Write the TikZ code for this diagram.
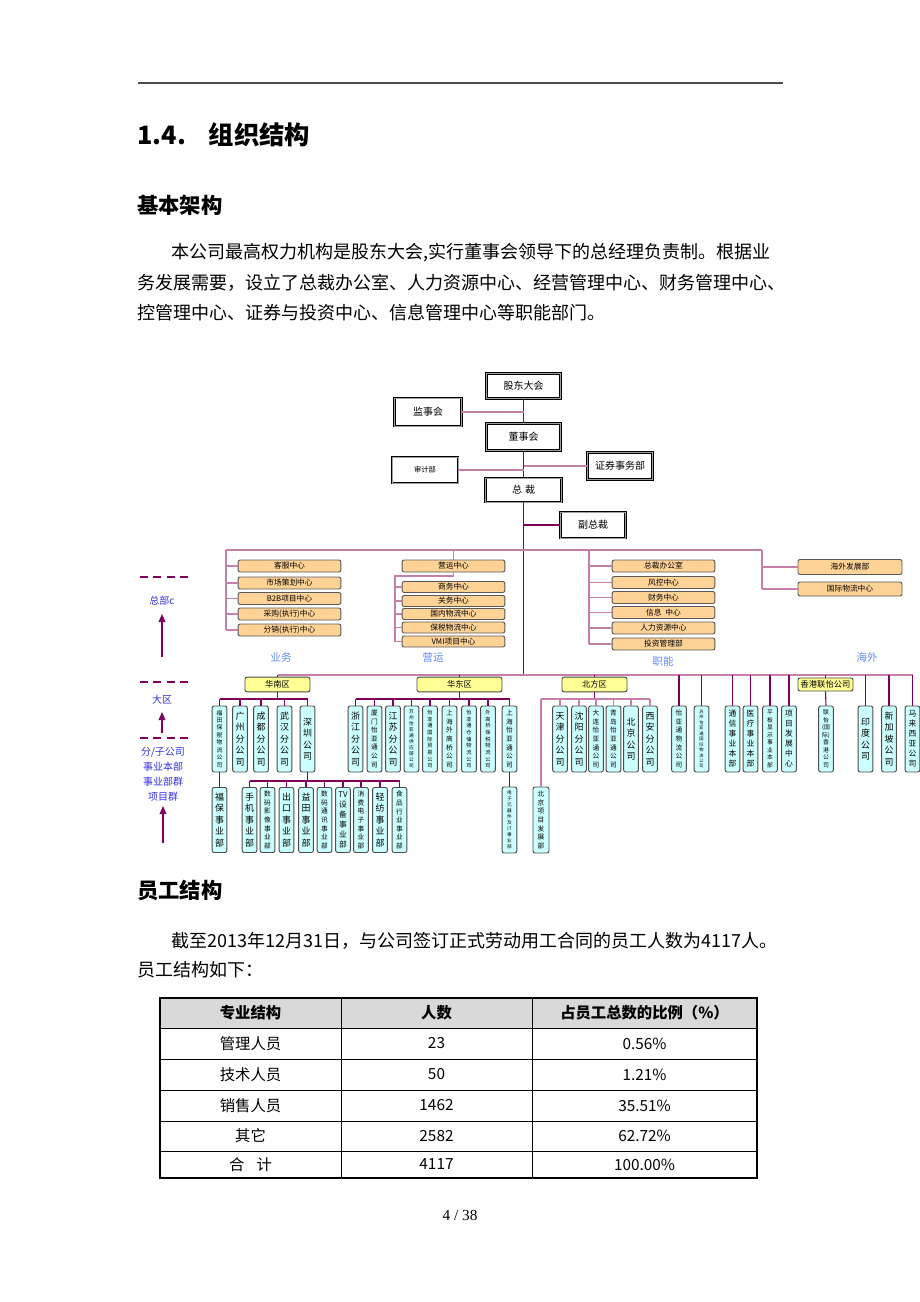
\documentclass[tikz,border=0pt]{standalone}
\usepackage{fontspec}
\newfontfamily\cjk{Noto Sans CJK SC}
\newfontfamily\lserif{Liberation Serif}
\usetikzlibrary{arrows.meta}
\definecolor{lnD}{RGB}{128,0,96}
\definecolor{lnL}{RGB}{196,128,170}
\definecolor{peach}{RGB}{255,210,150}
\definecolor{cyanb}{RGB}{204,255,255}
\definecolor{yelb}{RGB}{255,255,150}
\definecolor{lblue}{RGB}{100,140,250}
\definecolor{dblue}{RGB}{50,50,225}
\ExplSyntaxOn
\NewDocumentCommand\vt{m}{
  \seq_clear:N \l_tmpa_seq
  \tl_map_inline:nn {#1} { \seq_put_right:Nn \l_tmpa_seq {##1} }
  \fp_set:Nn \l_tmpa_fp { min(8.6, 45/\seq_count:N \l_tmpa_seq) }
  \vbox{
    \fontsize{\fp_eval:n{round(0.78*\l_tmpa_fp,2)}pt}{\fp_eval:n{round(\l_tmpa_fp,2)}pt}\selectfont
    \seq_map_inline:Nn \l_tmpa_seq { \hbox to 0pt {\hss ##1\hss} }
  }
}
\ExplSyntaxOff
\begin{document}
\begin{tikzpicture}[x=0.75pt,y=-0.75pt,font=\cjk,
  topbox/.style={draw=black,line width=0.7pt,double=gray!75,double distance=0.7pt,fill=white,inner sep=0pt,font=\cjk\fontsize{7.5}{9}\selectfont},
  obox/.style={draw=black!65,line width=0.7pt,rounded corners=1.5pt,fill=peach,minimum width=77pt,minimum height=9pt,inner sep=0pt,font=\cjk\fontsize{5.8}{7}\selectfont},
  ybox/.style={draw=black!70,line width=0.7pt,rounded corners=1.5pt,fill=yelb,minimum height=11pt,inner sep=0pt,font=\cjk\fontsize{6.2}{7}\selectfont},
  cbox/.style={draw=black!70,line width=0.7pt,rounded corners=1.5pt,fill=cyanb,minimum width=11pt,minimum height=49.5pt,inner sep=0pt},
  dline/.style={draw=lnD,line width=0.8pt},
  lline/.style={draw=lnL,line width=1pt},
  txt/.style={anchor=west,inner sep=0pt},
  legd/.style={font=\cjk\fontsize{7.5}{9}\selectfont,text=dblue,inner sep=0pt},
  legl/.style={font=\cjk\fontsize{8}{9}\selectfont,text=lblue,inner sep=0pt},
  dashl/.style={draw=lnD,line width=0.8pt,dash pattern=on 6pt off 4pt},
  uparrow/.style={draw=lnD,line width=1pt,-{Triangle[length=6pt,width=5pt]}},
  cell/.style={font=\cjk\fontsize{11.5}{13}\selectfont,inner sep=0pt},
  hcell/.style={font=\cjk\bfseries\fontsize{11.5}{13}\selectfont,inner sep=0pt}]
\fill[white] (0,0) rectangle (920,1302);
\useasboundingbox (0,0) rectangle (920,1302);

% ---------- page text ----------
\draw[black!70,line width=1.1pt] (138,83) -- (783,83);
\node[txt,font=\cjk\bfseries\fontsize{19}{23}\selectfont] (h1) at (137,135) {1.4.\hspace{0.9em}组织结构};
\node[txt,font=\cjk\bfseries\fontsize{16}{19}\selectfont] (h2) at (137,205) {基本架构};
\node[txt,font=\cjk\fontsize{13.5}{16}\selectfont] (p1) at (171,253) {本公司最高权力机构是股东大会,实行董事会领导下的总经理负责制。根据业};
\node[txt,font=\cjk\fontsize{13.5}{16}\selectfont] (p2) at (137,283) {务发展需要，设立了总裁办公室、人力资源中心、经营管理中心、财务管理中心、};
\node[txt,font=\cjk\fontsize{13.5}{16}\selectfont] (p3) at (137,313) {控管理中心、证券与投资中心、信息管理中心等职能部门。};

% ---------- top of chart ----------
\node[topbox,minimum width=56pt,minimum height=18.75pt] (gd) at (523.5,386) {股东大会};
\node[topbox,minimum width=50pt,minimum height=21pt] (jsh) at (428,412) {监事会};
\node[topbox,minimum width=56pt,minimum height=20pt] (dsh) at (523.5,437) {董事会};
\node[topbox,minimum width=49.5pt,minimum height=19.5pt,font=\cjk\fontsize{5.5}{7}\selectfont] (sjb) at (425,470) {审计部};
\node[topbox,minimum width=49pt,minimum height=20pt] (zqsw) at (620,466) {证券事务部};
\node[topbox,minimum width=57pt,minimum height=18pt] (zc) at (523.5,490) {总\hspace{0.3em}裁};
\node[topbox,minimum width=49pt,minimum height=19.5pt] (fzc) at (593,525) {副总裁};
\draw[dline] (gd.south) -- (dsh.north);
\draw[dline] (dsh.south) -- (zc.north);
\draw[lline] (jsh.east) -- (jsh.east -| gd.south);
\draw[lline] (sjb.east) -- (sjb.east -| zc.north);
\draw[lline] (zqsw.west) -- (zqsw.west -| zc.north);
\draw[dline] (fzc.west) -- (fzc.west -| zc.south);
\coordinate (rb) at (523.5,675);
\draw[dline] (zc.south) -- (rb);

% ---------- functional level ----------
\coordinate (fL) at (226,550);
\coordinate (fR) at (762,550);
\draw[lline] (fL) -- (fR);
\node[obox] (kf) at (289.5,566) {客服中心};
\node[obox] (sc) at (289.5,583) {市场策划中心};
\node[obox] (b2b) at (289.5,598.5) {B2B项目中心};
\node[obox] (cg) at (289.5,614) {采购(执行)中心};
\node[obox] (fx) at (289.5,630) {分销(执行)中心};
\draw[lline] (fL) -- (fL |- fx.west);
\foreach \n in {kf,sc,b2b,cg,fx} \draw[lline] (\n.west -| fL) -- (\n.west);

\node[obox] (yy) at (453.5,566) {营运中心};
\node[obox,minimum height=8.25pt] (sw) at (453.5,587) {商务中心};
\node[obox,minimum height=8.25pt] (gw) at (453.5,601) {关务中心};
\node[obox,minimum height=8.25pt] (gn) at (453.5,614) {国内物流中心};
\node[obox,minimum height=8.25pt] (bs) at (453.5,627.5) {保税物流中心};
\node[obox,minimum height=8.25pt] (vmi) at (453.5,641.5) {VMI项目中心};
\coordinate (m1) at (395,576);
\draw[lline] (yy.north |- fL) -- (yy.north);
\draw[lline] (yy.south) -- (yy.south |- m1) -- (m1) -- (m1 |- vmi.west);
\foreach \n in {sw,gw,gn,bs,vmi} \draw[lline] (\n.west -| m1) -- (\n.west);

\coordinate (r1) at (589,550);
\node[obox] (zb) at (663.5,566) {总裁办公室};
\node[obox] (fk) at (663.5,582.5) {风控中心};
\node[obox] (cw) at (663.5,597.5) {财务中心};
\node[obox] (xx) at (663.5,612.5) {信息\hspace{0.5em}中心};
\node[obox] (rl) at (663.5,628) {人力资源中心};
\node[obox] (tz) at (663.5,644) {投资管理部};
\draw[lline] (r1) -- (r1 |- tz.west);
\foreach \n in {zb,fk,cw,xx,rl,tz} \draw[lline] (\n.west -| r1) -- (\n.west);

\node[obox,minimum width=78pt,minimum height=11.25pt] (hw) at (850,567) {海外发展部};
\node[obox,minimum width=78pt,minimum height=10.5pt] (gj) at (850,589) {国际物流中心};
\draw[lline] (fR) -- (fR |- gj.west);
\draw[lline] (hw.west -| fR) -- (hw.west);
\draw[lline] (gj.west -| fR) -- (gj.west);

\node[legl] (lyw) at (281,657) {业务};
\node[legl] (lyy) at (433,657) {营运};
\node[legl] (lzn) at (663,661) {职能};
\node[legl] (lhw) at (867,657) {海外};

% ---------- regions ----------
\coordinate (rL) at (277.5,675);
\coordinate (rR) at (912.5,675);
\draw[lline] (rL) -- (rR);
\node[ybox,minimum width=48.75pt] (hn) at (277.5,684.5) {华南区};
\node[ybox,minimum width=63.75pt] (hd) at (459.5,684.5) {华东区};
\node[ybox,minimum width=48.75pt] (bf) at (594.5,684.5) {北方区};
\node[ybox,minimum width=41.25pt,minimum height=9.75pt] (xg) at (825.5,684.5) {香港联怡公司};
\foreach \n in {hn,hd,bf,xg} \draw[dline] (\n.north |- rL) -- (\n.north);

% row 2
\node[cbox] (ft) at (219.5,739) {\vt{福田保税物流公司}};
\node[cbox] (gz) at (240,739) {\vt{广州分公司}};
\node[cbox] (cd) at (261,739) {\vt{成都分公司}};
\node[cbox] (wh) at (284.5,739) {\vt{武汉分公司}};
\node[cbox] (sz) at (307.5,739) {\vt{深圳公司}};
\coordinate (hnb) at (277.5,699);
\draw[dline] (hn.south) -- (hnb);
\draw[dline] (ft.north |- hnb) -- (sz.north |- hnb);
\foreach \n in {ft,gz,cd,wh,sz} \draw[dline] (\n.north |- hnb) -- (\n.north);

\node[cbox] (zj) at (355.5,739) {\vt{浙江分公司}};
\node[cbox] (xm) at (374.5,739) {\vt{厦门怡亚通公司}};
\node[cbox] (js) at (393,739) {\vt{江苏分公司}};
\node[cbox] (szh) at (411.5,739) {\vt{苏州怡亚通供应链公司}};
\node[cbox] (gjm) at (430,739) {\vt{怡亚通国际贸易公司}};
\node[cbox] (wgq) at (449.5,739) {\vt{上海外高桥公司}};
\node[cbox] (ccwl) at (469,739) {\vt{怡亚通仓储物流公司}};
\node[cbox] (bswl) at (488,739) {\vt{外高桥保税物流公司}};
\node[cbox] (sh) at (509.5,739) {\vt{上海怡亚通公司}};
\coordinate (hdb) at (459.5,699);
\draw[dline] (hd.south) -- (hdb);
\draw[dline] (zj.north |- hdb) -- (sh.north |- hdb);
\foreach \n in {zj,xm,js,szh,gjm,wgq,ccwl,bswl,sh} \draw[dline] (\n.north |- hdb) -- (\n.north);

\node[cbox] (tj) at (560,739) {\vt{天津分公司}};
\node[cbox] (sy) at (579,739) {\vt{沈阳分公司}};
\node[cbox] (dlian) at (596,739) {\vt{大连怡亚通公司}};
\node[cbox] (qd) at (613.5,739) {\vt{青岛怡亚通公司}};
\node[cbox] (bj) at (631,739) {\vt{北京公司}};
\node[cbox] (xa) at (650,739) {\vt{西安分公司}};
\node[cbox,minimum width=12pt,minimum height=49.5pt] (bjxm) at (541,820) {\vt{北京项目发展部}};
\coordinate (bfb) at (594.5,699);
\draw[dline] (bf.south) -- (bfb);
\draw[lline] (bjxm.north |- bfb) -- (xa.north |- bfb);
\draw[lline] (bjxm.north |- bfb) -- (bjxm.north);
\foreach \n in {tj,sy,dlian,qd,bj,xa} \draw[lline] (\n.north |- bfb) -- (\n.north);

\node[cbox] (yt) at (679,739) {\vt{怡亚通物流公司}};
\node[cbox] (tiny) at (701.5,739) {\vt{苏州怡亚通国际物流公司}};
\node[cbox] (tx) at (732.5,739) {\vt{通信事业本部}};
\node[cbox] (yl) at (750.5,739) {\vt{医疗事业本部}};
\node[cbox] (pb) at (770,739) {\vt{平板显示事业本部}};
\node[cbox] (xmfz) at (789,739) {\vt{项目发展中心}};
\node[cbox] (lygj) at (826,739) {\vt{联怡{(国}{际)}香港公司}};
\node[cbox] (yd) at (865.5,739) {\vt{印度公司}};
\node[cbox] (xjp) at (889,739) {\vt{新加坡公司}};
\node[cbox] (mlxy) at (912.5,739) {\vt{马来西亚公司}};
\foreach \n in {yt,tiny,tx,yl,pb,xmfz,yd,xjp,mlxy} \draw[dline] (\n.north |- rL) -- (\n.north);
\draw[dline] (xg.south) -- (lygj.north);

% row 3
\node[cbox,minimum height=48.75pt] (fb) at (219.5,820) {\vt{福保事业部}};
\draw[dline] (ft.south) -- (fb.north);
\node[cbox,minimum height=48.75pt] (sj) at (249.5,820) {\vt{手机事业部}};
\node[cbox,minimum height=48.75pt] (smyx) at (267.5,820) {\vt{数码影像事业部}};
\node[cbox,minimum height=48.75pt] (ck) at (286.5,820) {\vt{出口事业部}};
\node[cbox,minimum height=48.75pt] (ytsy) at (306,820) {\vt{益田事业部}};
\node[cbox,minimum height=48.75pt] (smtx) at (324.5,820) {\vt{数码通讯事业部}};
\node[cbox,minimum height=48.75pt] (tv) at (343,820) {\vt{{TV}设备事业部}};
\node[cbox,minimum height=48.75pt] (xfdz) at (361,820) {\vt{消费电子事业部}};
\node[cbox,minimum height=48.75pt] (qf) at (380,820) {\vt{轻纺事业部}};
\node[cbox,minimum height=48.75pt] (sp) at (399.5,820) {\vt{食品行业事业部}};
\coordinate (szb) at (307.5,781);
\draw[dline] (sz.south) -- (szb);
\draw[dline] (sj.north |- szb) -- (sp.north |- szb);
\foreach \n in {sj,smyx,ck,ytsy,smtx,tv,xfdz,qf,sp} \draw[dline] (\n.north |- szb) -- (\n.north);
\node[cbox,minimum height=49.5pt] (dzyq) at (509.5,820) {\vt{电子元器件及{IT}事业部}};
\draw[dline] (sh.south) -- (dzyq.north);

% ---------- legend ----------
\draw[dashl] (140,577) -- (192,577);
\node[legd] (lg1) at (162,601) {总部c};
\coordinate (a1s) at (162,657); \coordinate (a1e) at (162,614);
\draw[uparrow] (a1s) -- (a1e);
\draw[dashl] (140,682) -- (192,682);
\node[legd] (lg2) at (162,700) {大区};
\coordinate (a2s) at (162,733); \coordinate (a2e) at (162,712);
\draw[uparrow] (a2s) -- (a2e);
\draw[dashl] (140,738) -- (192,738);
\node[legd] (lg3) at (163,752) {分/子公司};
\node[legd] (lg4) at (163,767) {事业本部};
\node[legd] (lg5) at (163,782) {事业部群};
\node[legd] (lg6) at (163,797) {项目群};
\coordinate (a3s) at (163,843); \coordinate (a3e) at (163,806);
\draw[uparrow] (a3s) -- (a3e);

% ---------- staff ----------
\node[txt,font=\cjk\bfseries\fontsize{16}{19}\selectfont] (h3) at (137,890) {员工结构};
\node[txt,font=\cjk\fontsize{13.5}{16}\selectfont] (s1) at (171,941) {截至2013年12月31日，与公司签订正式劳动用工合同的员工人数为4117人。};
\node[txt,font=\cjk\fontsize{13.5}{16}\selectfont] (s2) at (137,970) {员工结构如下：};

\fill[gray!30] (160,998) rectangle (757,1028);
\foreach \y in {1028,1059,1090,1121,1151} \draw[black,line width=0.6pt] (160,\y) -- (757,\y);
\draw[black,line width=0.6pt] (341,998) -- (341,1178);
\draw[black,line width=0.6pt] (532,998) -- (532,1178);
\draw[black,line width=0.9pt] (160,998) rectangle (757,1178);
\node[hcell] (t00) at (250.5,1013) {专业结构};
\node[hcell] (t01) at (436.5,1013) {人数};
\node[hcell] (t02) at (644.5,1013) {占员工总数的比例（\%）};
\node[cell] (t10) at (250.5,1043.5) {管理人员};
\node[cell] (t11) at (436.5,1043.5) {23};
\node[cell] (t12) at (644.5,1043.5) {0.56\%};
\node[cell] (t20) at (250.5,1074.5) {技术人员};
\node[cell] (t21) at (436.5,1074.5) {50};
\node[cell] (t22) at (644.5,1074.5) {1.21\%};
\node[cell] (t30) at (250.5,1105.5) {销售人员};
\node[cell] (t31) at (436.5,1105.5) {1462};
\node[cell] (t32) at (644.5,1105.5) {35.51\%};
\node[cell] (t40) at (250.5,1136) {其它};
\node[cell] (t41) at (436.5,1136) {2582};
\node[cell] (t42) at (644.5,1136) {62.72\%};
\node[cell] (t50) at (250.5,1164.5) {合\hspace{0.8em}计};
\node[cell] (t51) at (436.5,1164.5) {4117};
\node[cell] (t52) at (644.5,1164.5) {100.00\%};

\node[font=\lserif\fontsize{11.5}{13}\selectfont,inner sep=0pt] (pg) at (460,1215) {4 / 38};
\end{tikzpicture}
\end{document}
